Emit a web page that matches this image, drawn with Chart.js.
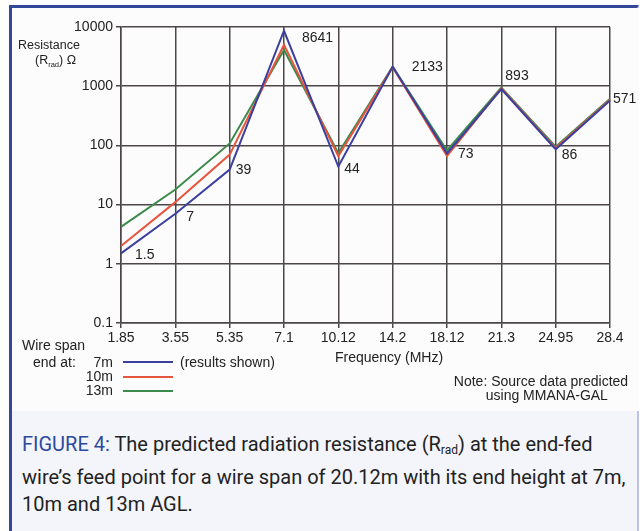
<!DOCTYPE html>
<html>
<head>
<meta charset="utf-8">
<script src="https://cdn.jsdelivr.net/npm/chart.js@4.4.0/dist/chart.umd.min.js"></script>
<style>
  html, body { margin: 0; padding: 0; background: #fff; }
  body { width: 643px; height: 531px; position: relative; overflow: hidden; font-family: "Liberation Sans", Arial, sans-serif; color: #222; }
  #box { position: absolute; left: 9px; top: 5px; width: 630px; height: 530px; box-sizing: border-box;
         border-left: 3px solid #34489a; border-top: 3px solid #34489a; border-right: 2px solid #bcc4ee; background: #f4f5fb; }
  #plotbg { position: absolute; left: 12px; top: 8px; width: 627px; height: 403px; background: #fcfcfc; }
  #chart { position: absolute; left: 0; top: 0; }
  .t { position: absolute; font-size: 14px; line-height: 16px; white-space: nowrap; color: #222; }
  .r { text-align: right; }
  .ln { position: absolute; height: 2px; width: 50px; }
  #caption { position: absolute; left: 22px; top: 431px; width: 614px; font-family: "Roboto", sans-serif;
             font-size: 20px; line-height: 27px; color: #222; }
  #caption b { font-weight: normal; color: #2b4a9e; }
  sub { font-size: 60%; vertical-align: -3px; }
</style>
</head>
<body>
<div id="box"></div>
<div id="plotbg"></div>
<canvas id="chart" width="643" height="365"></canvas>

<div class="t" style="left:18px; top:37px; font-size:12.5px;">Resistance</div>
<div class="t" style="left:35px; top:52px; font-size:12.5px;">(R<sub>rad</sub>) Ω</div>

<div class="t" style="left:22px; top:337px;">Wire span</div>
<div class="t" style="left:33px; top:354px;">end at:</div>
<div class="t r" style="right:530px; top:354px;">7m</div>
<div class="ln" style="left:123px; top:361px; background:#3b3f9e;"></div>
<div class="t" style="left:180px; top:354px;">(results shown)</div>
<div class="t r" style="right:530px; top:368px;">10m</div>
<div class="ln" style="left:123px; top:376px; background:#e8553e;"></div>
<div class="t r" style="right:530px; top:382px;">13m</div>
<div class="ln" style="left:123px; top:390px; background:#3c8a4c;"></div>

<div class="t" style="left:389px; top:349px; transform: translateX(-50%);">Frequency (MHz)</div>
<div class="t" style="left:541px; top:374px; transform: translateX(-50%); text-align:center; line-height:14px;">Note: Source data predicted<br>&nbsp;&nbsp;&nbsp;using MMANA-GAL</div>

<div id="caption"><b>FIGURE 4:</b> The predicted radiation resistance (R<sub>rad</sub>) at the end-fed wire’s feed point for a wire span of 20.12m with its end height at 7m, 10m and 13m AGL.</div>

<script>
// frequencies (MHz), shown as evenly spaced categories
const freqLabels = ['1.85', '3.55', '5.35', '7.1', '10.12', '14.2', '18.12', '21.3', '24.95', '28.4'];
const yTicks = [0.1, 1, 10, 100, 1000, 10000];

// radiation resistance (ohms) for end height 7m / 10m / 13m
const rad7m  = [1.5, 7, 39, 8641, 44, 2133, 73, 893, 86, 571];
const rad10m = [2.0, 11, 70, 5000, 66, 2100, 66, 920, 90, 590];
const rad13m = [4.2, 18, 108, 4100, 74, 2150, 82, 950, 95, 615];

// values printed next to the 7m line
const pointLabels = ['1.5', '7', '39', '8641', '44', '2133', '73', '893', '86', '571'];
const labelDx = [14, 11, 6, 18, 6, 19, 11, 4, 6, 3];
const labelDy = [2, 3, 1, 7, 3, 0, 1, -13, 6, -1];

const gridColor = '#4d4646';

const pointLabelPlugin = {
    id: 'pointLabels',
    afterDatasetsDraw(chart) {
        const ctx = chart.ctx;
        const pts = chart.getDatasetMeta(0).data;
        ctx.save();
        ctx.font = '14px "Liberation Sans", Arial, sans-serif';
        ctx.fillStyle = '#222';
        ctx.textAlign = 'left';
        ctx.textBaseline = 'middle';
        pts.forEach((p, i) => {
            ctx.fillText(pointLabels[i], p.x + labelDx[i], p.y + labelDy[i]);
        });
        ctx.restore();
    }
};

const ctx = document.getElementById('chart').getContext('2d');
new Chart(ctx, {
    type: 'line',
    data: {
        labels: freqLabels,
        datasets: [
            { label: '7m', data: rad7m, borderColor: '#3b3f9e' },
            { label: '10m', data: rad10m, borderColor: '#e8553e' },
            { label: '13m', data: rad13m, borderColor: '#3c8a4c' }
        ].map(d => Object.assign(d, { borderWidth: 2, pointRadius: 0, tension: 0, fill: false }))
    },
    options: {
        responsive: false,
        animation: false,
        devicePixelRatio: 1,
        layout: { padding: { left: 0, right: 33, top: 27, bottom: 0 } },
        plugins: {
            legend: { display: false },
            tooltip: { enabled: false }
        },
        scales: {
            x: {
                type: 'category',
                offset: false,
                grid: { color: gridColor, lineWidth: 1.5, tickLength: 5, offset: false },
                border: { color: gridColor, width: 1.5 },
                ticks: {
                    color: '#222', padding: 2, maxRotation: 0, autoSkip: false,
                    font: { family: '"Liberation Sans", Arial, sans-serif', size: 14 }
                },
                afterFit(scale) { scale.height = 42; }
            },
            y: {
                type: 'logarithmic',
                min: 0.1,
                max: 10000,
                grid: { color: gridColor, lineWidth: 1.5, tickLength: 5 },
                border: { color: gridColor, width: 1.5 },
                afterBuildTicks(scale) {
                    scale.ticks = yTicks.map(v => ({ value: v }));
                },
                ticks: {
                    color: '#222', padding: 3,
                    font: { family: '"Liberation Sans", Arial, sans-serif', size: 14 },
                    callback: v => String(v)
                },
                afterFit(scale) { scale.width = 121; }
            }
        }
    },
    plugins: [pointLabelPlugin]
});
</script>
</body>
</html>
